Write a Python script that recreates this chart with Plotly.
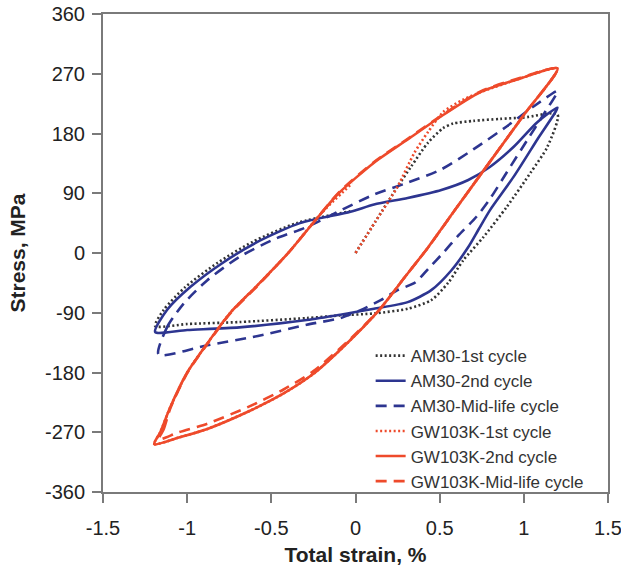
import plotly.graph_objects as go

# ---------------- data ----------------
# AM30 - 1st cycle: initial loading, unloading to compression, reloading to 0
am30_1st_strain = [0.0, 0.12, 0.25, 0.33, 0.43, 0.52, 0.58, 0.70, 0.86, 1.0, 1.2,
                   1.14, 1.04, 0.90, 0.76, 0.64, 0.55, 0.45, 0.31, 0.11, -0.09, -0.29, -0.69, -1.0, -1.19,
                   -1.14, -1.01, -0.82, -0.61, -0.35, -0.03]
am30_1st_stress = [0, 48, 100, 130, 166, 188, 195, 199, 202, 204, 209,
                   160, 121, 70, 24, -11, -45, -71, -84, -91, -94, -98, -104, -107, -110,
                   -86, -51, -15, 17, 45, 63]

# AM30 - 2nd cycle
am30_2nd_strain = [-1.19, -1.12, -0.98, -0.79, -0.58, -0.33, -0.03, 0.11, 0.31, 0.51, 0.67, 0.80, 0.94, 1.08, 1.2,
                   1.08, 0.94, 0.80, 0.73, 0.67, 0.57, 0.45, 0.31, 0.11, 0.0, -0.09, -0.29, -0.69, -1.0, -1.19]
am30_2nd_stress = [-119, -86, -51, -15, 17, 45, 62, 73, 83, 95, 110, 130, 160, 197, 219,
                   171, 115, 65, 35, 9, -26, -56, -74, -84, -89, -93, -101, -112, -116, -119]

# AM30 - Mid-life cycle
am30_mid_strain = [-1.17, -1.12, -1.02, -0.88, -0.69, -0.49, -0.29, -0.09, 0.11, 0.31, 0.51, 0.70, 0.90, 1.06, 1.2,
                   1.12, 1.02, 0.90, 0.80, 0.72, 0.61, 0.52, 0.435, 0.357, 0.25, 0.15, 0.03, -0.09, -0.29, -0.58, -0.88, -1.17]
am30_mid_stress = [-153, -112, -76, -41, -6, 20, 39, 64, 88, 106, 126, 156, 191, 221, 244,
                   210, 170, 122, 82, 55, 26, 0, -23, -44, -56, -71, -86, -98, -108, -125, -139, -153]

# GW103K - 2nd cycle
gw_2nd_strain = [-1.196, -1.16, -1.10, -1.0, -0.88, -0.744, -0.58, -0.40, -0.21, -0.10, 0.11, 0.31, 0.51, 0.74, 0.98, 1.2,
                 1.0, 0.8, 0.6, 0.43, 0.3, 0.14, -0.05, -0.25, -0.43, -0.63, -0.88, -1.05, -1.196]
gw_2nd_stress = [-288, -270, -232, -180, -136, -90, -48, 0, 58, 90, 136, 171, 206, 242, 263, 278,
                 208, 138, 68, 8, -34, -86, -136, -182, -212, -238, -265, -278, -288]

# GW103K - 1st cycle: initial loading, then the loop back to 0
gw_1st_strain = [0.0, 0.12, 0.25, 0.35, 0.43, 0.52, 0.64, 0.74, 0.98, 1.2,
                 1.0, 0.8, 0.6, 0.43, 0.3, 0.14, -0.05, -0.25, -0.43, -0.63, -0.88, -1.05, -1.196,
                 -1.16, -1.10, -1.0, -0.88, -0.744, -0.58, -0.40, -0.21, -0.02]
gw_1st_stress = [0, 48, 100, 151, 182, 212, 231, 242, 263, 278,
                 208, 138, 68, 8, -34, -86, -136, -182, -212, -238, -265, -278, -288,
                 -270, -232, -180, -136, -90, -48, 0, 58, 105]

# GW103K - Mid-life cycle
gw_mid_strain = [-1.17, -1.14, -1.10, -1.0, -0.88, -0.744, -0.58, -0.40, -0.21, -0.10, 0.11, 0.31, 0.51, 0.74, 0.98, 1.2,
                 1.0, 0.8, 0.6, 0.43, 0.3, 0.14, -0.05, -0.25, -0.43, -0.63, -0.88, -1.05, -1.17]
gw_mid_stress = [-281, -266, -234, -181, -137, -91, -49, 0, 58, 91, 137, 172, 207, 243, 264, 278,
                 208, 138, 68, 8, -34, -86, -134, -178, -206, -231, -257, -270, -281]

x_ticks = [-1.5, -1.0, -0.5, 0.0, 0.5, 1.0, 1.5]
x_ticktext = ["-1.5", "-1", "-0.5", "0", "0.5", "1", "1.5"]
y_ticks = [-360, -270, -180, -90, 0, 90, 180, 270, 360]
y_ticktext = ["-360", "-270", "-180", "-90", "0", "90", "180", "270", "360"]

# ---------------- styles ----------------
BLUE = "#2D3590"
RED = "#EE4A2B"
BLACK = "#333333"
DOT = "2px,2.5px"
DASH = "11px,7px"

series = [
    ("AM30-1st cycle", am30_1st_strain, am30_1st_stress, BLACK, DOT),
    ("AM30-2nd cycle", am30_2nd_strain, am30_2nd_stress, BLUE, "solid"),
    ("AM30-Mid-life cycle", am30_mid_strain, am30_mid_stress, BLUE, DASH),
    ("GW103K-1st cycle", gw_1st_strain, gw_1st_stress, RED, DOT),
    ("GW103K-2nd cycle", gw_2nd_strain, gw_2nd_stress, RED, "solid"),
    ("GW103K-Mid-life cycle", gw_mid_strain, gw_mid_stress, RED, DASH),
]

fig = go.Figure()
for name, xs, ys, color, dash in series:
    fig.add_trace(go.Scatter(
        x=xs, y=ys, name=name, mode="lines",
        line=dict(color=color, width=2.6, dash=dash, shape="spline", smoothing=0.7),
    ))

FONT = "Liberation Sans, Arial, sans-serif"
axis_common = dict(
    showgrid=False, zeroline=False, automargin=False,
    showline=True, linecolor="#7a7a7a", linewidth=2, mirror=True,
    ticks="outside", ticklen=9, tickwidth=2, tickcolor="#7a7a7a",
    tickfont=dict(family=FONT, size=20, color="#222222"),
    ticklabeloverflow="allow",
)

fig.update_layout(
    width=621, height=571,
    margin=dict(l=103, r=13, t=14, b=79),
    paper_bgcolor="white", plot_bgcolor="white",
    font=dict(family=FONT, color="#222222"),
    xaxis=dict(range=[-1.5, 1.5], tickvals=x_ticks, ticktext=x_ticktext,
               title=dict(text="<b>Total strain, %</b>", font=dict(family=FONT, size=21, color="#222222"),
                          standoff=9),
               ticklabelstandoff=8, **axis_common),
    yaxis=dict(range=[-360, 360], tickvals=y_ticks, ticktext=y_ticktext,
               title=dict(text="<b>Stress, MPa</b>", font=dict(family=FONT, size=21, color="#222222"),
                          standoff=14),
               ticklabelstandoff=3, **axis_common),
    showlegend=True,
    legend=dict(x=0.53, y=0.322, xanchor="left", yanchor="top",
                bgcolor="rgba(0,0,0,0)", borderwidth=0,
                font=dict(family=FONT, size=17, color="#333333"),
                tracegroupgap=0),
)

fig.write_html("out.html")
